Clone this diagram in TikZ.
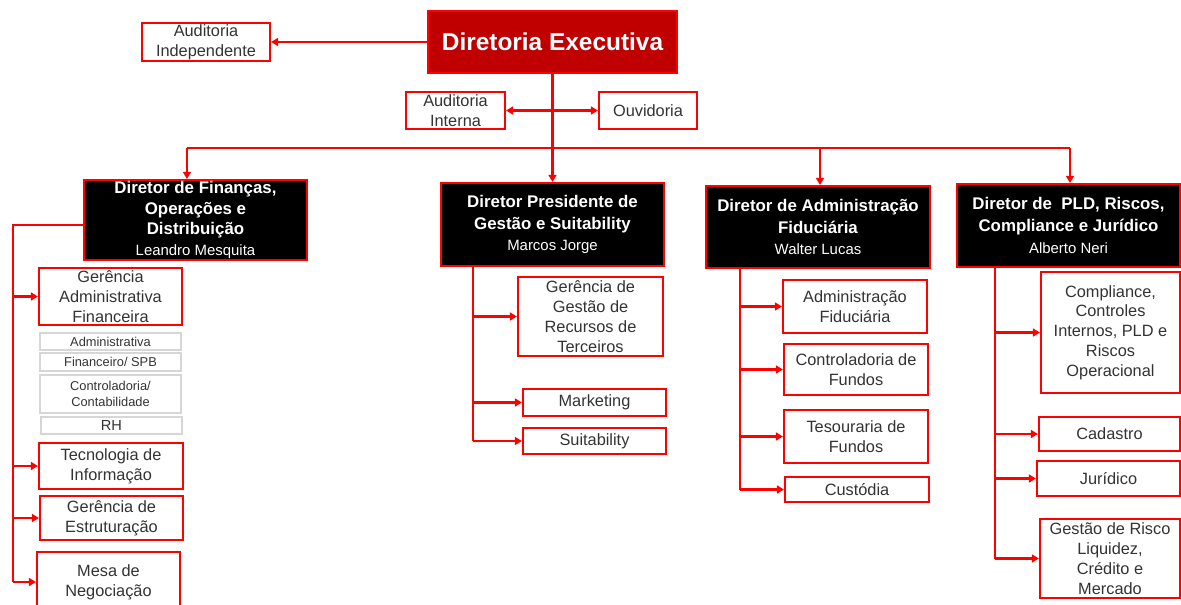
\documentclass[tikz,border=0pt]{standalone}
\usepackage{fontspec}
\setmainfont{Liberation Sans}
\usetikzlibrary{arrows.meta}

\definecolor{vermelho}{HTML}{FF0000}
\definecolor{bordo}{HTML}{C00000}
\definecolor{cinza}{HTML}{D6D6D6}
\definecolor{texto}{HTML}{333333}

\begin{document}
\begin{tikzpicture}[x=0.02cm,y=-0.02cm,
    tam/.style 2 args={minimum width=#1*0.02cm,minimum height=#2*0.02cm},
    caixa/.style={draw=vermelho,line width=1.2pt,fill=white,align=center,inner sep=0pt,
        text=texto,font=\fontsize{9.3}{11.3}\selectfont},
    diretor/.style={caixa,fill=black,text=white,font=\fontsize{9.6}{12.4}\selectfont\bfseries},
    sub/.style={draw=cinza,line width=1.2pt,align=center,inner sep=0pt,
        text=texto,font=\fontsize{7.3}{8.7}\selectfont},
    liga/.style={draw=vermelho,line width=1.3pt},
    seta/.style={liga,-{Triangle[length=4pt,width=4.5pt]}}]

    \useasboundingbox (0,0) rectangle (1181,605);

    % topo
    \node[caixa,fill=bordo,text=white,tam={249}{62},font=\fontsize{13.9}{16}\selectfont\bfseries]
        (de) at (552.5,42) {Diretoria Executiva};
    \node[caixa,tam={128}{38}] (ai) at (206,42) {Auditoria\\Independente};
    \node[caixa,tam={99}{37}] (aint) at (455.5,110.5) {Auditoria\\Interna};
    \node[caixa,tam={98}{37}] (ouv) at (648,110.5) {Ouvidoria};

    % diretores
    \node[diretor,tam={223}{80},font=\fontsize{9.6}{11.7}\selectfont\bfseries] (d1) at (195.5,220)
        {Diretor de Finanças,\\Operações e\\Distribuição\\
        {\mdseries\fontsize{8.5}{10}\selectfont Leandro Mesquita}};
    \node[diretor,tam={223}{83}] (d2) at (552.5,224.5) {Diretor Presidente de\\Gestão e Suitability\\
        {\mdseries\fontsize{8.5}{10}\selectfont Marcos Jorge}};
    \node[diretor,tam={224}{82}] (d3) at (818,227) {Diretor de Administração\\Fiduciária\\
        {\mdseries\fontsize{8.5}{10}\selectfont Walter Lucas}};
    \node[diretor,tam={223}{83}] (d4) at (1068.5,225.5) {Diretor de\ \ PLD, Riscos,\\Compliance e Jurídico\\
        {\mdseries\fontsize{8.5}{10}\selectfont Alberto Neri}};

    % financas
    \node[caixa,tam={143}{57}] (gaf) at (110.5,296.5) {Gerência\\Administrativa\\Financeira};
    \node[sub,tam={141}{17}] (adm) at (110.5,341.5) {Administrativa};
    \node[sub,tam={141}{18}] (fin) at (110.5,362) {Financeiro/ SPB};
    \node[sub,tam={141}{38}] (ctb) at (110.5,394) {Controladoria/\\Contabilidade};
    \node[sub,tam={141}{17},font=\fontsize{8.3}{9}\selectfont] (rh) at (111.5,425.5) {RH};
    \node[caixa,tam={144}{46}] (ti) at (111,466) {Tecnologia de\\Informação};
    \node[caixa,tam={143}{44}] (ge) at (111.5,518) {Gerência de\\Estruturação};
    \node[caixa,tam={143}{60}] (mn) at (108.5,582) {Mesa de\\Negociação};

    % gestao
    \node[caixa,tam={145}{79}] (ggr) at (590.5,316.5) {Gerência de\\Gestão de\\Recursos de\\Terceiros};
    \node[caixa,tam={143}{27}] (mkt) at (594.5,402.5) {Marketing};
    \node[caixa,tam={143}{26}] (suit) at (594.5,441) {Suitability};

    % administracao fiduciaria
    \node[caixa,tam={144}{53}] (af) at (855,306.5) {Administração\\Fiduciária};
    \node[caixa,tam={144}{51}] (cf) at (856,369.5) {Controladoria de\\Fundos};
    \node[caixa,tam={144}{53}] (tf) at (856,436.5) {Tesouraria de\\Fundos};
    \node[caixa,tam={144}{25}] (cus) at (857,489.5) {Custódia};

    % pld, riscos, compliance
    \node[caixa,tam={139}{121}] (cci) at (1110.5,332.5) {Compliance,\\Controles\\Internos, PLD e\\Riscos\\Operacional};
    \node[caixa,tam={141}{34}] (cad) at (1109.5,434) {Cadastro};
    \node[caixa,tam={143}{35}] (jur) at (1108.5,478.5) {Jurídico};
    \node[caixa,tam={140}{79}] (gr) at (1110,558.5) {Gestão de Risco\\Liquidez,\\Crédito e\\Mercado};

    % ligacoes do topo
    \coordinate (m) at (552.5,110.5);
    \coordinate (b1) at (187,148);
    \coordinate (b3) at (820,148);
    \coordinate (b4) at (1070,148);
    \draw[seta] (de.west) -- (ai.east);
    \draw[seta] (m) -- (aint.east);
    \draw[seta] (m) -- (ouv.west);
    \draw[liga] (b1) -- (b4);
    \draw[seta] (de.south) -- (d2.north);
    \foreach \b/\d in {b1/d1,b3/d3,b4/d4}
        \draw[seta] (\b) -- (\b |- \d.north);

    % ramos
    \coordinate (t1) at (13,0);
    \coordinate (t2) at (473,0);
    \coordinate (t3) at (740,0);
    \coordinate (t4) at (995,0);
    \draw[liga] ([yshift=-5*0.02cm]d1.west) -| (t1 |- mn.west);
    \draw[liga] (t2 |- d2.south) -- (t2 |- suit.west);
    \draw[liga] (t3 |- d3.south) -- (t3 |- cus.west);
    \draw[liga] (t4 |- d4.south) -- (t4 |- gr.west);
    \foreach \f in {gaf,ti,ge,mn}
        \draw[seta] (t1 |- \f.west) -- (\f.west);
    \foreach \f in {ggr,mkt,suit}
        \draw[seta] (t2 |- \f.west) -- (\f.west);
    \foreach \f in {af,cf,tf,cus}
        \draw[seta] (t3 |- \f.west) -- (\f.west);
    \foreach \f in {cci,cad,jur,gr}
        \draw[seta] (t4 |- \f.west) -- (\f.west);
\end{tikzpicture}
\end{document}
